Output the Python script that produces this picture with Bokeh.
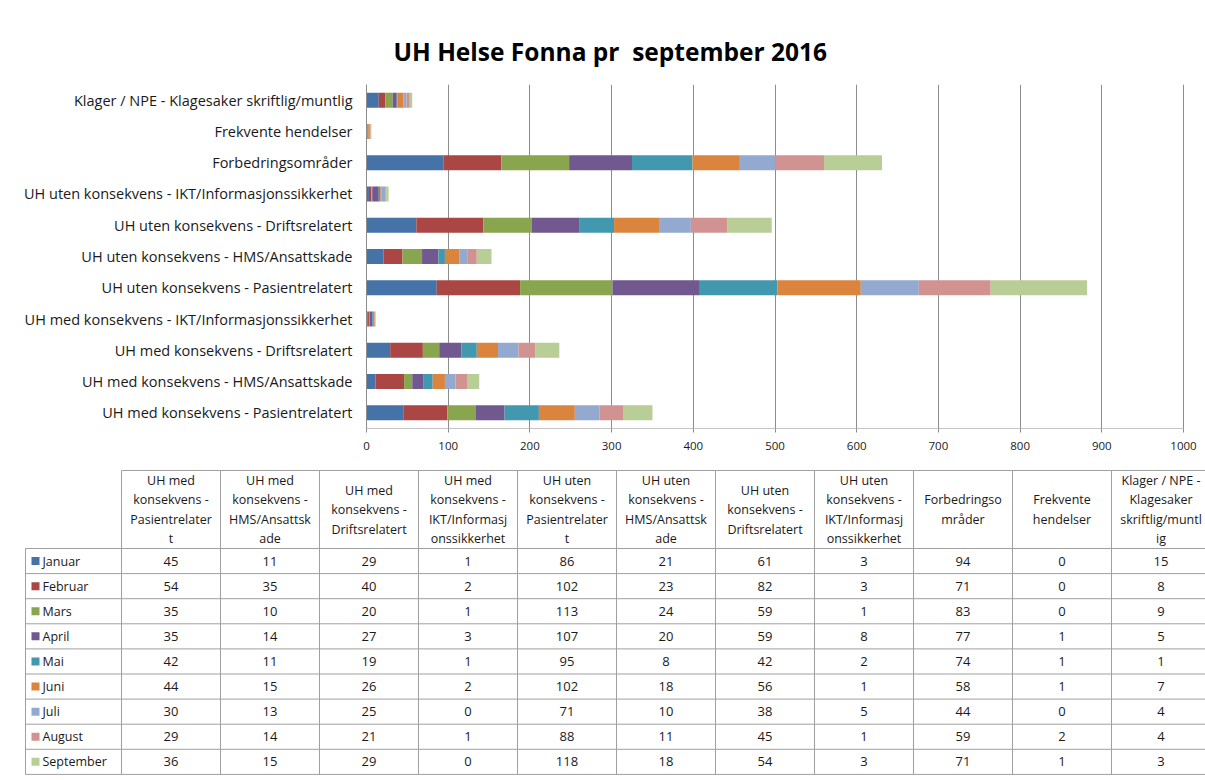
from bokeh.plotting import figure
from bokeh.layouts import column
from bokeh.models import ColumnDataSource, FixedTicker, Range1d, FactorRange
from bokeh.core.properties import value
from bokeh.embed import file_html
from bokeh.resources import INLINE

# ---------------- data ----------------
categories = [
    "UH med konsekvens - Pasientrelatert",
    "UH med konsekvens - HMS/Ansattskade",
    "UH med konsekvens - Driftsrelatert",
    "UH med konsekvens - IKT/Informasjonssikkerhet",
    "UH uten konsekvens - Pasientrelatert",
    "UH uten konsekvens - HMS/Ansattskade",
    "UH uten konsekvens - Driftsrelatert",
    "UH uten konsekvens - IKT/Informasjonssikkerhet",
    "Forbedringsområder",
    "Frekvente hendelser",
    "Klager / NPE - Klagesaker skriftlig/muntlig",
]
table_headers = [
    ["UH med", "konsekvens -", "Pasientrelater", "t"],
    ["UH med", "konsekvens -", "HMS/Ansattsk", "ade"],
    ["UH med", "konsekvens -", "Driftsrelatert"],
    ["UH med", "konsekvens -", "IKT/Informasj", "onssikkerhet"],
    ["UH uten", "konsekvens -", "Pasientrelater", "t"],
    ["UH uten", "konsekvens -", "HMS/Ansattsk", "ade"],
    ["UH uten", "konsekvens -", "Driftsrelatert"],
    ["UH uten", "konsekvens -", "IKT/Informasj", "onssikkerhet"],
    ["Forbedringso", "mråder"],
    ["Frekvente", "hendelser"],
    ["Klager / NPE -", "Klagesaker", "skriftlig/muntl", "ig"],
]
months = ["Januar", "Februar", "Mars", "April", "Mai", "Juni", "Juli", "August", "September"]
januar = [45, 11, 29, 1, 86, 21, 61, 3, 94, 0, 15]
februar = [54, 35, 40, 2, 102, 23, 82, 3, 71, 0, 8]
mars = [35, 10, 20, 1, 113, 24, 59, 1, 83, 0, 9]
april = [35, 14, 27, 3, 107, 20, 59, 8, 77, 1, 5]
mai = [42, 11, 19, 1, 95, 8, 42, 2, 74, 1, 1]
juni = [44, 15, 26, 2, 102, 18, 56, 1, 58, 1, 7]
juli = [30, 13, 25, 0, 71, 10, 38, 5, 44, 0, 4]
august = [29, 14, 21, 1, 88, 11, 45, 1, 59, 2, 4]
september = [36, 15, 29, 0, 118, 18, 54, 3, 71, 1, 3]
x_ticks = [0, 100, 200, 300, 400, 500, 600, 700, 800, 900, 1000]
title_text = "UH Helse Fonna pr\u00a0 september 2016"

series = [januar, februar, mars, april, mai, juni, juli, august, september]
colors = ["#4572A7", "#AA4643", "#89A54E", "#71588F", "#4198AF",
          "#DB843D", "#93A9CF", "#D19392", "#B9CD96"]

FONT = "Open Sans"
TXT = "#1A1A1A"
GRID = "#8C8C8C"

W = 1205
# plot-area geometry in pixels (layout only)
PL, PR = 366.0, 1183.0
px_per_unit = (PR - PL) / (x_ticks[-1] - x_ticks[0])
x_start = x_ticks[0] - PL / px_per_unit
x_end = x_ticks[-1] + (W - PR) / px_per_unit

# ---------------- chart ----------------
data = {"cat": categories}
for m, s in zip(months, series):
    data[m] = s
src = ColumnDataSource(data)

H1 = 468
p1 = figure(width=W, height=H1, output_backend="svg", toolbar_location=None,
            y_range=FactorRange(factors=categories), x_range=Range1d(x_start, x_end),
            min_border_left=0, min_border_right=0, min_border_top=84,
            min_border_bottom=40, title=title_text)
p1.hbar_stack(months, y="cat", height=0.48, color=colors, source=src, line_width=0)

# category labels (left of the plot area)
p1.text(x=[x_ticks[0]] * len(categories), y=categories, text=categories,
        x_offset=-14, text_align="right", text_baseline="middle",
        text_font=value(FONT), text_font_size="14.5px", text_color=TXT)

# axis lines of the plot area
ncat = len(categories)
p1.segment(x0=[x_ticks[0], x_ticks[0]], y0=[0, 0], x1=[x_ticks[-1], x_ticks[0]], y1=[0, ncat],
           line_color=GRID, line_width=1)

p1.title.text_font = FONT
p1.title.text_font_size = "24.5px"
p1.title.text_font_style = "bold"
p1.title.text_color = "#000000"
p1.title.align = "left"
p1.title.offset = 393
p1.title.standoff = 33

p1.outline_line_color = None
p1.yaxis.visible = False
p1.ygrid.grid_line_color = None
p1.xgrid.grid_line_color = GRID
p1.xgrid.ticker = FixedTicker(ticks=x_ticks)
p1.xaxis.ticker = FixedTicker(ticks=x_ticks)
p1.xaxis.axis_line_color = None
p1.xaxis.major_tick_line_color = GRID
p1.xaxis.major_tick_out = 4
p1.xaxis.major_tick_in = 0
p1.xaxis.minor_tick_line_color = None
p1.xaxis.major_label_standoff = 9
p1.xaxis.major_label_text_font = FONT
p1.xaxis.major_label_text_font_size = "11.5px"
p1.xaxis.major_label_text_color = TXT

# ---------------- data table ----------------
H2 = 780 - H1
p2 = figure(width=W, height=H2, output_backend="svg", toolbar_location=None,
            x_range=Range1d(0, W), y_range=Range1d(H2, 0), min_border=0)
p2.axis.visible = False
p2.grid.visible = False
p2.outline_line_color = None

leg_left = 25.0
col0 = 121.0
col_w = 99.0
head_top = 2.0
head_bot = 80.0
row_h = 25.1
ncol = len(categories)
nrow = len(months)
right = col0 + ncol * col_w
bottom = head_bot + nrow * row_h
TGRID = "#A0A0A0"

x0s, y0s, x1s, y1s = [], [], [], []
x0s.append(col0); x1s.append(right); y0s.append(head_top); y1s.append(head_top)
for i in range(nrow + 1):
    y = head_bot + i * row_h
    x0s.append(leg_left); x1s.append(right); y0s.append(y); y1s.append(y)
for j in range(ncol + 1):
    x = col0 + j * col_w
    x0s.append(x); x1s.append(x); y0s.append(head_top); y1s.append(bottom)
x0s.append(leg_left); x1s.append(leg_left); y0s.append(head_bot); y1s.append(bottom)
p2.segment(x0=x0s, y0=y0s, x1=x1s, y1=y1s, line_color=TGRID, line_width=1)

# header text
hx, hy, ht = [], [], []
line_sp = 19.5
hc = (head_top + head_bot) / 2
for j, lines in enumerate(table_headers):
    n = len(lines)
    for k, t in enumerate(lines):
        hx.append(col0 + (j + 0.5) * col_w)
        hy.append(hc + (k - (n - 1) / 2) * line_sp)
        ht.append(t)
p2.text(x=hx, y=hy, text=ht, text_align="center", text_baseline="middle",
        text_font=value(FONT), text_font_size="12.5px", text_color=TXT)

# cell values
cx, cy, ct = [], [], []
for i, s in enumerate(series):
    for j, v in enumerate(s):
        cx.append(col0 + (j + 0.5) * col_w)
        cy.append(head_bot + (i + 0.5) * row_h)
        ct.append(str(v))
p2.text(x=cx, y=cy, text=ct, text_align="center", text_baseline="middle",
        text_font=value(FONT), text_font_size="13px", text_color=TXT)

# legend keys
ky = [head_bot + (i + 0.5) * row_h for i in range(nrow)]
p2.rect(x=[leg_left + 10] * nrow, y=ky, width=8, height=8, fill_color=colors, line_color=None)
p2.text(x=[leg_left + 17] * nrow, y=ky, text=months, text_align="left", text_baseline="middle",
        text_font=value(FONT), text_font_size="12.5px", text_color=TXT)

layout = column(p1, p2, spacing=0)
open("out.html", "w").write(file_html(layout, INLINE))
